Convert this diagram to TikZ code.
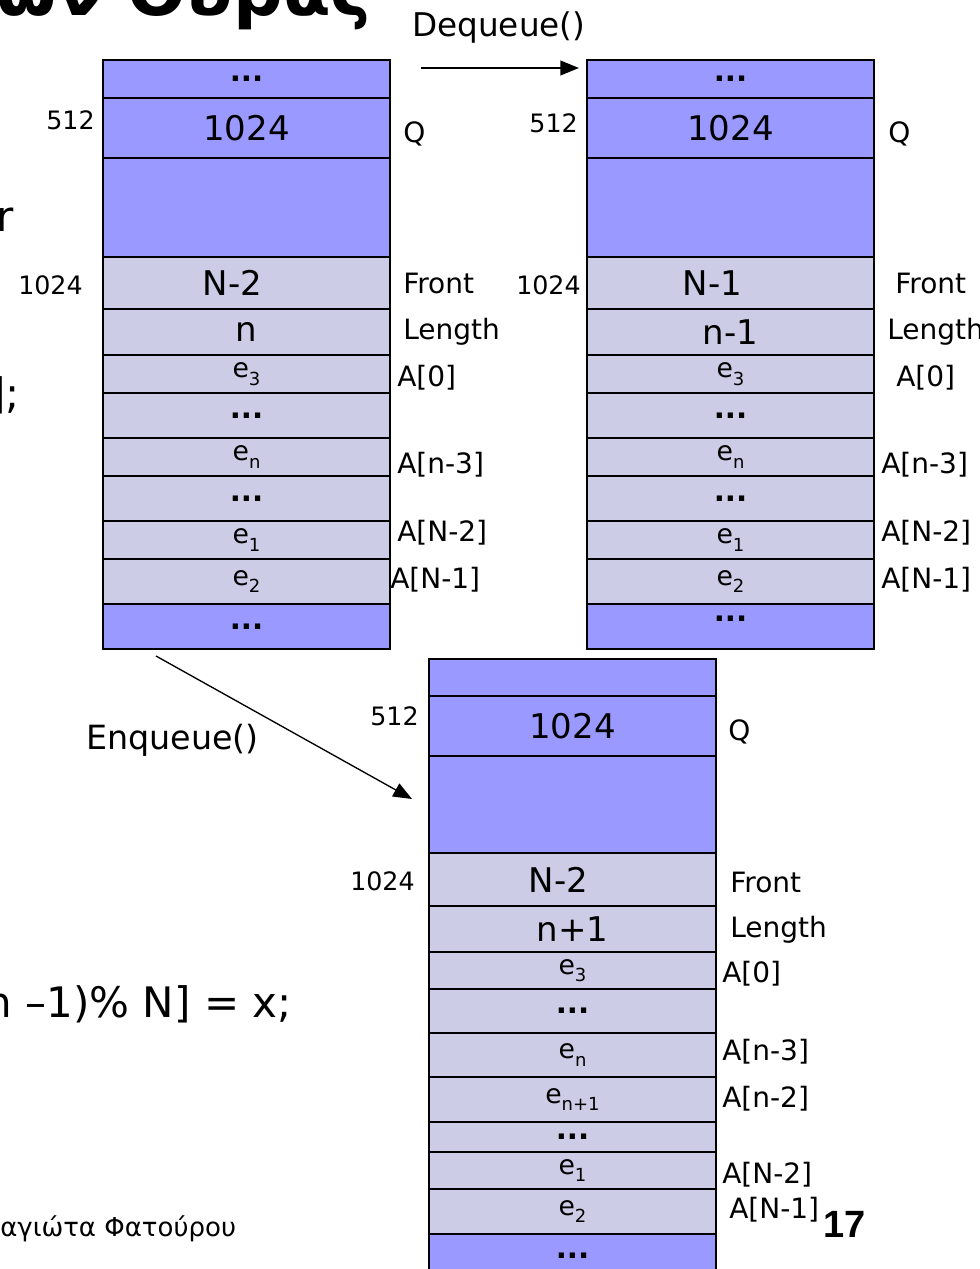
\documentclass[tikz,border=0pt]{standalone}
\usepackage{fontspec}
\setmainfont{DejaVu Sans}
\newfontfamily\pagefont{Liberation Sans}
\usetikzlibrary{arrows.meta}
\definecolor{qblue}{RGB}{153,153,255}
\definecolor{qlight}{RGB}{204,204,230}
\newcommand\fsz[1]{\fontsize{#1}{#1}\selectfont}
\newcommand\el[1]{{\fsz{20pt}e\raisebox{-0.28em}{\fsz{13.5pt}#1}}}
\newcommand\dts{{\fsz{22pt}\bfseries ...}}
\newcommand\qrow[6]{\node[cell, fill=#5, minimum height={(#4-#3)*0.75pt}] (#1) at ({#2+143.5},{(#3+#4)/2}) {#6};}
\tikzset{
  cell/.style={draw=black, line width=1.4pt, inner sep=0pt, outer sep=0pt, minimum width=215.25pt, font=\fsz{25.5pt}},
  lab/.style={anchor=base west, inner sep=0pt, font=\fsz{21pt}},
  addr/.style={anchor=base east, inner sep=0pt, font=\fsz{19pt}},
  arr/.style={-{Triangle[length=14pt,width=11pt]}, line width=1.4pt},
  arrthin/.style={-{Triangle[length=14pt,width=11pt]}, line width=1pt},
  op/.style={anchor=base west, inner sep=0pt, font=\fsz{24.5pt}},
}
\begin{document}
\begin{tikzpicture}[x=0.75pt,y=-0.75pt]
\useasboundingbox (0,0) rectangle (980,1269);
\clip (0,0) rectangle (980,1269);

% ---------- left memory picture ----------
\qrow{La}{103}{60}{98}{qblue}{\dts}
\qrow{Lb}{103}{98}{158}{qblue}{1024}
\qrow{Lc}{103}{158}{257}{qblue}{}
\qrow{Ld}{103}{257}{309}{qlight}{N-2\kern21pt}
\qrow{Le}{103}{309}{355}{qlight}{n}
\qrow{Lf}{103}{355}{393}{qlight}{\el{3}}
\qrow{Lg}{103}{393}{438}{qlight}{\dts}
\qrow{Lh}{103}{438}{476}{qlight}{\el{n}}
\qrow{Li}{103}{476}{521}{qlight}{\dts}
\qrow{Lj}{103}{521}{559}{qlight}{\el{1}}
\qrow{Lk}{103}{559}{604}{qlight}{\el{2}}
\qrow{Ll}{103}{604}{649}{qblue}{\dts}

\node[addr] (L512) at (95,130) {512};
\node[addr] (L1024) at (83,295) {1024};
\node[lab] (LQ) at (403,143) {Q};
\node[lab] (LFront) at (403,294) {Front};
\node[lab] (LLength) at (403,339) {Length};
\node[lab] (LA0) at (397,386) {A[0]};
\node[lab] (LAn3) at (397,473) {A[n-3]};
\node[lab] (LAN2) at (397,541) {A[N-2]};
\node[lab] (LAN1) at (390,588) {A[N-1]};

% ---------- right memory picture ----------
\qrow{Ra}{587}{60}{98}{qblue}{\dts}
\qrow{Rb}{587}{98}{158}{qblue}{1024}
\qrow{Rc}{587}{158}{257}{qblue}{}
\qrow{Rd}{587}{257}{309}{qlight}{N-1\kern27pt}
\qrow{Re}{587}{309}{355}{qlight}{n-1}
\qrow{Rf}{587}{355}{393}{qlight}{\el{3}}
\qrow{Rg}{587}{393}{438}{qlight}{\dts}
\qrow{Rh}{587}{438}{476}{qlight}{\el{n}}
\qrow{Ri}{587}{476}{521}{qlight}{\dts}
\qrow{Rj}{587}{521}{559}{qlight}{\el{1}}
\qrow{Rk}{587}{559}{604}{qlight}{\el{2}}
\qrow{Rl}{587}{604}{649}{qblue}{\raisebox{11pt}{\dts}}

\node[addr] (R512) at (578,133) {512};
\node[addr] (R1024) at (581,295) {1024};
\node[lab] (RQ) at (888,143) {Q};
\node[lab] (RFront) at (895,294) {Front};
\node[lab] (RLength) at (887,339) {Length};
\node[lab] (RA0) at (896,386) {A[0]};
\node[lab] (RAn3) at (881,473) {A[n-3]};
\node[lab] (RAN2) at (881,541) {A[N-2]};
\node[lab] (RAN1) at (881,588) {A[N-1]};

% ---------- bottom memory picture ----------
\qrow{Ba}{429}{659}{696}{qblue}{}
\qrow{Bb}{429}{696}{756}{qblue}{1024}
\qrow{Bc}{429}{756}{853}{qblue}{}
\qrow{Bd}{429}{853}{906}{qlight}{N-2\kern21pt}
\qrow{Be}{429}{906}{952}{qlight}{n+1}
\qrow{Bf}{429}{952}{989}{qlight}{\el{3}}
\qrow{Bg}{429}{989}{1033}{qlight}{\dts}
\qrow{Bh}{429}{1033}{1077}{qlight}{\el{n}}
\qrow{Bi}{429}{1077}{1122}{qlight}{\el{n+1}}
\qrow{Bj}{429}{1122}{1152}{qlight}{\dts}
\qrow{Bk}{429}{1152}{1189}{qlight}{\el{1}}
\qrow{Bl}{429}{1189}{1234}{qlight}{\el{2}}
\qrow{Bm}{429}{1234}{1278}{qblue}{\dts}

\node[addr] (B512) at (419,725) {512};
\node[addr] (B1024) at (415,890) {1024};
\node[lab] (BQ) at (728,740) {Q};
\node[lab] (BFront) at (730,892) {Front};
\node[lab] (BLength) at (730,937) {Length};
\node[lab] (BA0) at (722,982) {A[0]};
\node[lab] (BAn3) at (722,1060) {A[n-3]};
\node[lab] (BAn2) at (722,1107) {A[n-2]};
\node[lab] (BAN2) at (722,1183) {A[N-2]};
\node[lab] (BAN1) at (729,1218) {A[N-1]};
\node[anchor=base west, inner sep=0pt, font={\pagefont\bfseries\fsz{28.5pt}}] (page) at (823,1237) {17};

% ---------- operations ----------
\node[op] (deq) at (412,37) {Dequeue()};
\coordinate (deqS) at (421,68);
\coordinate (deqE) at (579,68);
\draw[arr] (deqS) -- (deqE);

\node[op, font=\fsz{25pt}] (enq) at (86,749) {Enqueue()};
\coordinate (enqS) at (156,656);
\coordinate (enqE) at (412,799);
\draw[arrthin] (enqS) -- (enqE);

% ---------- slide text cut by the frame ----------
\node[anchor=base west, inner sep=0pt, font={\bfseries\fsz{52pt}}] (title) at (-4,16) {ων Ουράς};
\node[anchor=base east, inner sep=0pt, font=\fsz{31.5pt}] (codeA) at (14,232) {r};
\node[anchor=base east, inner sep=0pt, font=\fsz{31.5pt}] (codeB) at (20,408) {];};
\node[anchor=base east, inner sep=0pt, font=\fsz{31.5pt}] (codeC) at (292,1017) {n –1)\% N] = x;};
\node[anchor=base west, inner sep=0pt, font=\fsz{19.5pt}] (author) at (0,1236) {αγιώτα Φατούρου};
\end{tikzpicture}
\end{document}
